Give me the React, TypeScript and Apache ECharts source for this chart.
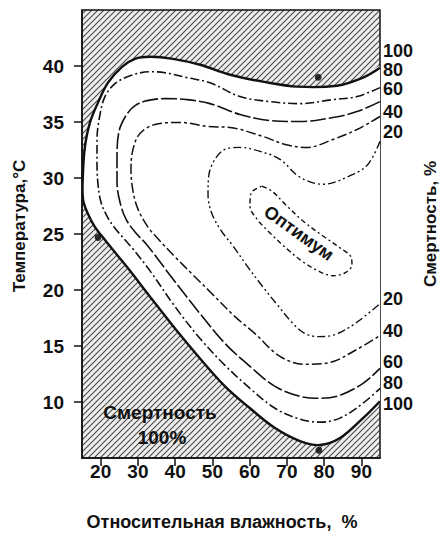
import React, { useEffect, useRef } from "react";
import * as echarts from "echarts";

// Tick values
const humidityTicks = [20, 30, 40, 50, 60, 70, 80, 90];
const temperatureTicks = [10, 15, 20, 25, 30, 35, 40];

// Contour lines of mortality [% relative humidity, °C]
const contour100: number[][] = [
  [95.0, 39.84], [90.44, 38.96], [83.46, 38.24], [72.72, 38.16], [63.59, 38.6], [54.73, 39.22],
  [46.68, 40.11], [39.43, 40.64], [33.26, 40.82], [29.23, 40.64], [25.74, 39.93], [21.98, 38.51],
  [19.3, 36.73], [17.15, 34.96], [15.81, 32.82], [15.27, 30.51], [15.27, 28.11], [16.61, 26.78],
  [18.49, 25.62], [21.17, 24.47], [24.66, 23.04], [27.89, 21.71], [33.26, 19.4], [39.97, 16.56],
  [46.68, 13.89], [53.39, 11.4], [60.1, 9.44], [66.81, 7.67], [73.52, 6.51], [78.89, 6.16],
  [84.26, 6.78], [90.44, 8.56], [95.0, 10.07],
];
const contour80: number[][] = [
  [95.0, 38.07], [88.83, 37.27], [82.38, 37.0], [73.52, 36.64], [65.47, 36.82], [57.42, 37.27],
  [49.36, 38.51], [43.19, 38.96], [37.28, 39.4], [33.26, 39.49], [27.89, 39.13], [23.86, 38.42],
  [21.17, 37.27], [19.83, 35.67], [19.03, 33.44], [19.03, 31.22], [19.3, 29.44], [20.1, 27.84],
  [21.71, 26.6], [23.59, 25.62], [28.42, 23.76], [33.26, 21.71], [39.97, 18.51], [46.68, 15.67],
  [53.39, 13.27], [60.1, 11.22], [66.81, 9.44], [73.52, 8.47], [78.89, 8.2], [84.26, 8.56],
  [90.44, 9.89], [95.0, 11.22],
];
const contour60: number[][] = [
  [95.0, 36.82], [88.83, 35.93], [82.38, 35.4], [73.52, 35.04], [65.47, 35.13], [57.42, 35.67],
  [49.36, 36.64], [43.19, 37.0], [37.28, 37.09], [32.45, 36.91], [29.23, 36.47], [26.81, 35.58],
  [24.93, 34.16], [24.4, 31.93], [24.4, 29.62], [25.2, 27.84], [26.81, 26.33], [29.23, 25.18],
  [32.45, 24.02], [39.16, 21.09], [46.68, 17.89], [53.39, 15.22], [60.1, 13.18], [66.81, 11.4],
  [73.52, 10.51], [78.89, 10.33], [84.26, 10.6], [90.44, 11.67], [95.0, 13.0],
];
const contour40: number[][] = [
  [95.0, 35.49], [88.83, 34.33], [82.38, 33.44], [75.4, 32.73], [69.5, 33.0], [63.59, 33.71],
  [54.73, 34.51], [48.83, 34.6], [41.31, 34.96], [34.6, 34.78], [30.57, 33.98], [28.69, 32.56],
  [28.15, 30.78], [28.69, 28.82], [30.03, 27.22], [32.72, 25.62], [35.94, 24.38], [39.97, 22.96],
  [44.53, 21.44], [49.9, 19.67], [56.07, 17.62], [61.44, 16.11], [68.15, 14.07], [74.87, 13.36],
  [81.58, 13.53], [88.29, 14.6], [95.0, 15.93],
];
const contour20: number[][] = [
  [95.0, 33.27], [91.78, 31.22], [87.75, 30.33], [79.7, 29.44], [73.52, 30.07], [68.15, 31.67],
  [62.79, 32.38], [57.42, 32.73], [53.39, 32.56], [50.7, 31.67], [49.09, 30.33], [48.83, 28.56],
  [49.63, 27.04], [52.05, 25.44], [55.54, 23.93], [59.3, 22.16], [63.32, 20.38], [67.62, 18.6],
  [71.64, 17.0], [74.87, 16.11], [78.36, 15.84], [82.92, 16.02], [88.29, 17.0], [95.0, 18.78],
];
const optimum: number[][] = [
  [63.32, 29.27], [66.01, 28.82], [69.5, 27.67], [74.33, 26.16], [79.7, 24.82], [84.26, 23.76],
  [87.21, 22.96], [87.48, 22.24], [85.6, 21.53], [82.38, 21.27], [78.36, 21.71], [74.33, 22.51],
  [70.03, 23.67], [65.47, 25.09], [61.98, 26.33], [60.1, 27.49], [60.37, 28.64], [63.32, 29.27],
];
const markedPoints: number[][] = [[78.4, 39.0], [19.3, 24.7], [78.6, 5.7]];

// Mortality labels at the right edge
const upperLabels = ["100", "80", "60", "40", "20"];
const upperLabelTemps = [41.36, 39.67, 37.98, 35.93, 34.07];
const lowerLabels = ["20", "40", "60", "80", "100"];
const lowerLabelTemps = [19.2, 16.3, 13.6, 11.7, 9.85];

const FONT = '"Liberation Sans", Arial, Helvetica, sans-serif';
const INK = "#111111";

const hatchSvg =
  "<svg xmlns='http://www.w3.org/2000/svg' width='6' height='6'>" +
  "<rect width='6' height='6' fill='#eeeeee'/>" +
  "<path d='M-1,7 L7,-1 M-1,1 L1,-1 M5,7 L7,5' stroke='#4a4a4a' stroke-width='1.1'/>" +
  "</svg>";
const hatch = {
  image: "data:image/svg+xml;charset=utf-8," + encodeURIComponent(hatchSvg),
  repeat: "repeat",
  imageWidth: 6,
  imageHeight: 6,
};

function contourLine(data: number[][], type: any, width: number) {
  return {
    type: "line",
    data,
    smooth: 0.35,
    symbol: "none",
    silent: true,
    lineStyle: { color: INK, width, type },
    z: 3,
  };
}

export default function App() {
  const ref = useRef<HTMLDivElement>(null);

  useEffect(() => {
    if (!ref.current) return;
    const chart = echarts.init(ref.current, null, { renderer: "svg" });
    const labelData = [
      ...upperLabels.map((t, i) => ({ name: t, value: [95, upperLabelTemps[i]] })),
      ...lowerLabels.map((t, i) => ({ name: t, value: [95, lowerLabelTemps[i]] })),
    ];
    chart.setOption({
      animation: false,
      backgroundColor: "#ffffff",
      grid: {
        left: 82,
        right: 68,
        top: 10,
        bottom: 76,
        show: true,
        backgroundColor: hatch,
        borderColor: INK,
        borderWidth: 1.5,
      },
      xAxis: {
        type: "value",
        min: 15,
        max: 95,
        splitLine: { show: false },
        axisLine: { show: true, lineStyle: { color: INK, width: 1.5 } },
        axisTick: { show: true, customValues: humidityTicks, length: 8, lineStyle: { color: INK, width: 1.5 } },
        axisLabel: {
          customValues: humidityTicks,
          margin: 4,
          fontSize: 19,
          fontWeight: "bold",
          fontFamily: FONT,
          color: INK,
        },
        name: "Относительная влажность,  %",
        nameLocation: "middle",
        nameGap: 55,
        nameTextStyle: { fontSize: 18, fontWeight: "bold", fontFamily: FONT, color: INK, padding: [0, 18, 0, 0] },
      },
      yAxis: [
        {
          type: "value",
          min: 5,
          max: 45,
          splitLine: { show: false },
          axisLine: { show: true, lineStyle: { color: INK, width: 1.5 } },
          axisTick: { show: true, customValues: temperatureTicks, length: 8, lineStyle: { color: INK, width: 1.5 } },
          axisLabel: {
            customValues: temperatureTicks,
            margin: 18,
            fontSize: 19,
            fontWeight: "bold",
            fontFamily: FONT,
            color: INK,
          },
          name: "Температура,°C",
          nameLocation: "middle",
          nameRotate: 90,
          nameGap: 54,
          nameTextStyle: { fontSize: 17, fontWeight: "bold", fontFamily: FONT, color: INK, padding: [0, 0, 0, 16] },
        },
        {
          type: "value",
          position: "right",
          min: 5,
          max: 45,
          splitLine: { show: false },
          axisLine: { show: false },
          axisTick: { show: false },
          axisLabel: { show: false },
          name: "Смертность, %",
          nameLocation: "middle",
          nameRotate: 90,
          nameGap: 42,
          nameTextStyle: { fontSize: 17, fontWeight: "bold", fontFamily: FONT, color: INK, padding: [0, 0, 0, 20] },
        },
      ],
      series: [
        {
          type: "custom",
          coordinateSystem: "cartesian2d",
          clip: true,
          silent: true,
          data: [[50, 25]],
          z: 2,
          renderItem: (_params: any, api: any) => {
            const pts = contour100.map((p) => api.coord(p));
            return {
              type: "group",
              children: [
                { type: "polygon", shape: { points: pts, smooth: 0.35 }, style: { fill: "#ffffff", stroke: "none" } },
                { type: "polyline", shape: { points: pts, smooth: 0.35 }, style: { fill: "none", stroke: INK, lineWidth: 2.4 } },
              ],
            };
          },
        },
        contourLine(contour80, [9, 3, 2, 3], 1.6),
        contourLine(contour60, [16, 3], 1.6),
        contourLine(contour40, [10, 3, 3, 3], 1.5),
        contourLine(contour20, [8, 3, 2, 3, 2, 3], 1.4),
        contourLine(optimum, [5, 3, 2, 3], 1.4),
        {
          type: "scatter",
          data: markedPoints,
          symbolSize: 7,
          itemStyle: { color: "#000" },
          silent: true,
          z: 5,
        },
        {
          type: "scatter",
          data: labelData,
          symbolSize: 0,
          itemStyle: { color: INK, opacity: 1 },
          silent: true,
          label: {
            show: true,
            position: "right",
            distance: 3,
            formatter: "{b}",
            fontSize: 18,
            lineHeight: 18,
            fontWeight: "bold",
            fontFamily: FONT,
            color: INK,
            opacity: 1,
          },
          z: 5,
        },
      ],
      graphic: [
        {
          type: "text",
          x: 160,
          y: 412,
          z: 10,
          style: {
            text: "Смертность",
            fontSize: 19,
            fontWeight: "bold",
            fontFamily: FONT,
            fill: INK,
            align: "center",
            verticalAlign: "middle",
            textAlign: "center",
            textVerticalAlign: "middle",
          },
        },
        {
          type: "text",
          x: 162,
          y: 437,
          z: 10,
          style: {
            text: "100%",
            fontSize: 19,
            fontWeight: "bold",
            fontFamily: FONT,
            fill: INK,
            align: "center",
            verticalAlign: "middle",
            textAlign: "center",
            textVerticalAlign: "middle",
          },
        },
        {
          type: "text",
          x: 299,
          y: 233,
          rotation: -0.62,
          z: 10,
          style: {
            text: "Оптимум",
            fontSize: 18,
            fontWeight: "bold",
            fontFamily: FONT,
            fill: INK,
            align: "center",
            verticalAlign: "middle",
            textAlign: "center",
            textVerticalAlign: "middle",
          },
        },
      ],
    });
    return () => chart.dispose();
  }, []);

  return (
    <div
      ref={ref}
      style={{ position: "fixed", left: 0, top: 0, width: 448, height: 536, background: "#fff" }}
    />
  );
}
